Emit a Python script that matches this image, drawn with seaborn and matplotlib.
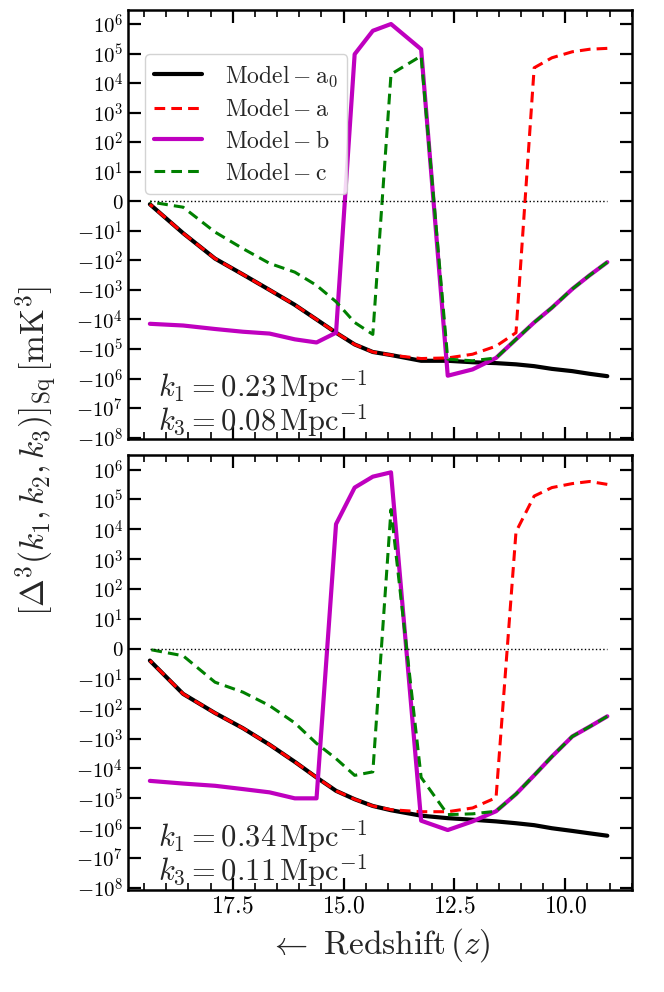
import numpy as np
import pandas as pd
import matplotlib
matplotlib.use("Agg")
import matplotlib.pyplot as plt
import seaborn as sns
from matplotlib.ticker import FixedLocator, FixedFormatter, MultipleLocator

# redshift grid
z = [19.37, 18.62, 17.9, 17.27, 16.67, 16.1, 15.61, 15.17, 14.75, 14.34, 13.93,
     13.25, 12.65, 12.09, 11.56, 11.11, 10.70, 10.3, 9.84, 9.45, 9.05]

# top panel: k1 = 0.23, k3 = 0.08
top_a0 = [-1, -12, -87, -3e2, -1e3, -3.2e3, -1e4, -2.8e4, -7e4, -1.26e5, -1.6e5,
          -2.5e5, -2.5e5, -2.8e5, -3e5, -3.3e5, -3.8e5, -4.7e5, -5.6e5, -6.9e5, -8.3e5]
top_a = [-1, -12, -87, -3e2, -1e3, -3.2e3, -1e4, -2.8e4, -7e4, -1.26e5, -1.6e5,
         -2.1e5, -2e5, -1.5e5, -8e4, -2.8e4, 3.3e4, 7.2e4, 1.15e5, 1.4e5, 1.5e5]
top_b = [-1.4e4, -1.6e4, -2.1e4, -2.6e4, -3e4, -4.7e4, -6e4, -2.8e4, 9.5e4, 5.9e5, 1e6,
         1.4e5, -8e5, -4.9e5, -2e5, -4.7e4, -1.26e4, -4e3, -9.3e2, -3.2e2, -1.15e2]
top_c = [-0.2, -2, -11, -40, -1.26e2, -2.5e2, -7e2, -2.5e3, -1.26e4, -3.2e4, 2e4,
         8.3e4, -2.2e5, -2.5e5, -2e5, -4.7e4, -1.26e4, -4e3, -9.3e2, -3.2e2, -1.15e2]

# bottom panel: k1 = 0.34, k3 = 0.11
bot_a0 = [-3.9, -32, -1.4e2, -4.5e2, -1.6e3, -6e3, -2e4, -5.6e4, -1.07e5, -1.8e5, -2.5e5,
          -3.8e5, -4.6e5, -5.2e5, -5.9e5, -6.8e5, -7.9e5, -1e6, -1.23e6, -1.48e6, -1.78e6]
bot_a = [-3.9, -32, -1.4e2, -4.5e2, -1.6e3, -6e3, -2e4, -5.6e4, -1.07e5, -1.8e5, -2.4e5,
         -2.8e5, -2.8e5, -2.1e5, -9.5e4, 8.3e3, 1.3e5, 2.5e5, 3.4e5, 4e5, 3.2e5]
bot_b = [-2.6e4, -3.2e4, -3.8e4, -4.9e4, -6.3e4, -1e5, -1e5, 1.5e4, 2.5e5, 5.8e5, 8.1e5,
         -5.6e5, -1.15e6, -5.9e5, -2.7e5, -7.2e4, -1.7e4, -4e3, -8.5e2, -4e2, -1.8e2]
bot_c = [-0.2, -2.3, -13, -28, -79, -3e2, -1.45e3, -4.7e3, -1.7e4, -1.3e4, 4.6e4,
         -2e4, -3.5e5, -3.3e5, -2.7e5, -7.2e4, -1.7e4, -4e3, -8.5e2, -4e2, -1.8e2]

panels = [
    (top_a0, top_a, top_b, top_c, r"$k_1=0.23\,\mathrm{Mpc}^{-1}$", r"$k_3=0.08\,\mathrm{Mpc}^{-1}$"),
    (bot_a0, bot_a, bot_b, bot_c, r"$k_1=0.34\,\mathrm{Mpc}^{-1}$", r"$k_3=0.11\,\mathrm{Mpc}^{-1}$"),
]

sns.set_style("ticks")
plt.rcParams["font.family"] = ["DejaVu Serif"]
plt.rcParams["mathtext.fontset"] = "cm"
plt.rcParams["axes.edgecolor"] = "black"
plt.rcParams["xtick.color"] = "black"
plt.rcParams["ytick.color"] = "black"

fig = plt.figure(figsize=(6.64, 9.92), dpi=100)
ax1 = fig.add_axes([0.193, 0.557, 0.759, 0.433])
ax2 = fig.add_axes([0.193, 0.103, 0.759, 0.438], sharex=ax1)

tick_vals = [10.0**p for p in range(6, 0, -1)] + [0] + [-10.0**p for p in range(1, 9)]
tick_labs = [rf"$10^{{{p}}}$" for p in range(6, 0, -1)] + ["$0$"] + [rf"$-10^{{{p}}}$" for p in range(1, 9)]
xt_vals = [17.5, 15.0, 12.5, 10.0]
xt_labs = [rf"${v:.1f}$" for v in xt_vals]

for ax, (a0, a, b, c, t1, t2) in zip([ax1, ax2], panels):
    ax.set_yscale("symlog", linthresh=10, linscale=0.9)
    sns.lineplot(x=z, y=a0, ax=ax, color="black", lw=3, label=r"$\mathrm{Model-a_0}$")
    sns.lineplot(x=z, y=a, ax=ax, color="red", lw=2.2, ls=(0, (3.5, 2)), label=r"$\mathrm{Model-a}$")
    sns.lineplot(x=z, y=b, ax=ax, color="m", lw=3, label=r"$\mathrm{Model-b}$")
    sns.lineplot(x=z, y=c, ax=ax, color="green", lw=2.2, ls=(0, (3.5, 2)), label=r"$\mathrm{Model-c}$")
    ax.plot([z[0], z[-1]], [0, 0], color="black", lw=1, ls=":")
    ax.set_ylim(-1.15e8, 3e6)
    ax.yaxis.set_major_locator(FixedLocator(tick_vals))
    ax.yaxis.set_major_formatter(FixedFormatter(tick_labs))
    ax.yaxis.set_minor_locator(FixedLocator([]))
    ax.xaxis.set_major_locator(FixedLocator(xt_vals))
    ax.xaxis.set_major_formatter(FixedFormatter(xt_labs))
    ax.xaxis.set_minor_locator(MultipleLocator(0.5))
    ax.tick_params(which="major", direction="in", length=9, width=1.6, top=True, right=True, labelsize=15)
    ax.tick_params(which="minor", direction="in", length=5, width=1.2, top=True, right=True)
    ax.tick_params(axis="x", labelsize=17)
    for s in ax.spines.values():
        s.set_linewidth(1.8)
        s.set_color("black")
    ax.text(0.06, 0.1, t1, transform=ax.transAxes, fontsize=22)
    ax.text(0.06, 0.02, t2, transform=ax.transAxes, fontsize=22)
    if ax is ax1:
        ax.legend(loc="upper left", bbox_to_anchor=(0.01, 0.925), fontsize=17, handlelength=2.0,
                  framealpha=0.85, borderpad=0.4, labelspacing=0.38, handletextpad=1.0)
    else:
        ax.get_legend().remove()

ax1.set_xlim(19.86, 8.49)
plt.setp(ax1.get_xticklabels(), visible=False)
ax2.set_xlabel(r"$\leftarrow\ \mathrm{Redshift}\,(z)$", fontsize=24, labelpad=6)
fig.text(0.055, 0.545, r"$[\Delta^3(k_1,k_2,k_3)]_{\rm Sq}\,[\mathrm{mK}^3]$", rotation=90,
         fontsize=24, ha="center", va="center")

fig.savefig("out.png", dpi=100)
